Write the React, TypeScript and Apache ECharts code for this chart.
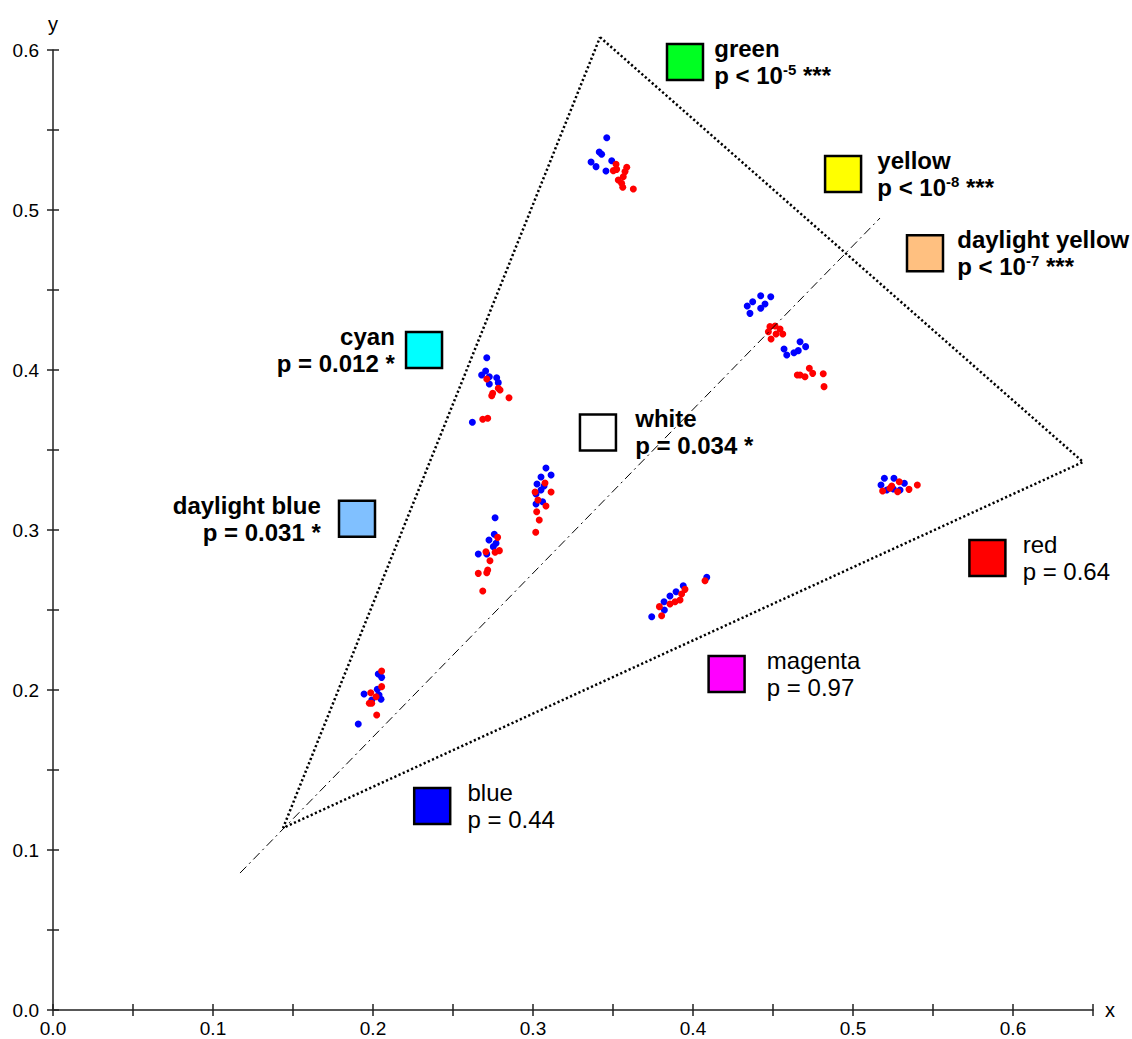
import React, { useEffect, useRef } from "react";
import * as echarts from "echarts";

// ---------- data ----------
const gamutTriangle: [number, number][] = [
  [0.3419, 0.608],
  [0.6438, 0.3425],
  [0.1438, 0.1138],
  [0.3419, 0.608],
];

const dashDotLine: [number, number][] = [
  [0.1169, 0.0856],
  [0.5169, 0.495],
];

const bluePoints: [number, number][] = [
  // green cluster
  [0.3461, 0.5452], [0.3414, 0.5363], [0.3429, 0.5348], [0.3363, 0.53], [0.3394, 0.5271], [0.3492, 0.5308], [0.3456, 0.5244],
  // yellow cluster
  [0.4423, 0.4464], [0.4486, 0.4458], [0.4373, 0.4427], [0.4339, 0.44], [0.445, 0.4413], [0.4423, 0.4386], [0.4356, 0.4354],
  // daylight yellow cluster
  [0.4669, 0.4177], [0.4704, 0.4146], [0.4569, 0.4131], [0.4658, 0.4121], [0.4631, 0.4108], [0.4586, 0.4094],
  // cyan cluster
  [0.2711, 0.4077], [0.2704, 0.3994], [0.2679, 0.3969], [0.2727, 0.3958], [0.2773, 0.3952], [0.2783, 0.3921], [0.2727, 0.3913], [0.2621, 0.3673],
  // white cluster
  [0.3081, 0.3388], [0.3113, 0.3344], [0.305, 0.3331], [0.3025, 0.3288], [0.3069, 0.3275], [0.305, 0.325], [0.3019, 0.3225], [0.306, 0.3177], [0.3019, 0.3163],
  // daylight blue cluster
  [0.2763, 0.3077], [0.2758, 0.2973], [0.2725, 0.2938], [0.2769, 0.2917], [0.2752, 0.2896], [0.2658, 0.285], [0.2711, 0.285],
  // blue cluster
  [0.2033, 0.21], [0.2054, 0.2079], [0.1944, 0.1975], [0.2027, 0.2004], [0.2038, 0.1969], [0.1992, 0.1938], [0.205, 0.1942], [0.1908, 0.1788],
  // magenta cluster
  [0.4086, 0.2704], [0.3939, 0.2652], [0.3894, 0.2614], [0.3856, 0.2588], [0.3819, 0.2552], [0.3821, 0.25], [0.3742, 0.2458],
  // red cluster
  [0.5196, 0.3323], [0.5256, 0.3323], [0.5175, 0.3281], [0.5321, 0.3292], [0.5211, 0.325], [0.5294, 0.325], [0.5252, 0.3256],
];

const redPoints: [number, number][] = [
  // green cluster
  [0.3519, 0.5286], [0.3502, 0.5246], [0.3523, 0.5254], [0.3586, 0.5267], [0.3575, 0.524], [0.3564, 0.5208], [0.3533, 0.5188], [0.3554, 0.5167], [0.3561, 0.5142], [0.3627, 0.5131],
  // yellow cluster
  [0.4481, 0.4271], [0.4513, 0.4275], [0.4544, 0.4256], [0.4471, 0.4239], [0.4561, 0.4225], [0.4488, 0.4194], [0.4519, 0.4225],
  // daylight yellow cluster
  [0.4727, 0.4011], [0.4669, 0.3969], [0.47, 0.3958], [0.4748, 0.3979], [0.4814, 0.3977], [0.4819, 0.3896], [0.4652, 0.3969],
  // cyan cluster
  [0.2711, 0.3944], [0.2783, 0.3886], [0.2794, 0.3875], [0.2748, 0.3854], [0.2742, 0.3839], [0.285, 0.3827], [0.2686, 0.3692], [0.2717, 0.3698],
  // white cluster
  [0.3075, 0.3294], [0.3013, 0.3238], [0.3113, 0.3238], [0.3081, 0.315], [0.3031, 0.3188], [0.3023, 0.3114], [0.3039, 0.3063], [0.3017, 0.2986],
  // daylight blue cluster
  [0.2779, 0.2954], [0.279, 0.2871], [0.2763, 0.2861], [0.2706, 0.2864], [0.2731, 0.2808], [0.2658, 0.2729], [0.2711, 0.2733], [0.2717, 0.275], [0.2686, 0.2619],
  // blue cluster
  [0.2054, 0.2119], [0.2054, 0.2021], [0.1986, 0.1983], [0.2019, 0.1958], [0.1977, 0.1917], [0.1992, 0.1917], [0.2023, 0.1844],
  // magenta cluster
  [0.4075, 0.2683], [0.395, 0.2629], [0.3929, 0.26], [0.3919, 0.2563], [0.3888, 0.2552], [0.3856, 0.2538], [0.379, 0.2521], [0.3804, 0.2464],
  // red cluster
  [0.5289, 0.3302], [0.5242, 0.3275], [0.5231, 0.3261], [0.5185, 0.3244], [0.535, 0.3254], [0.5402, 0.3281], [0.5279, 0.3239],
];

const swatchNames = ["green", "yellow", "daylight yellow", "cyan", "white", "daylight blue", "red", "magenta", "blue"];
const swatchX = [0.395, 0.4938, 0.545, 0.2319, 0.3406, 0.19, 0.584, 0.421, 0.237];
const swatchY = [0.5925, 0.5225, 0.473, 0.4125, 0.361, 0.307, 0.2825, 0.21, 0.1275];
const swatchColors = ["#00ff22", "#ffff00", "#ffc080", "#00ffff", "#ffffff", "#80c0ff", "#ff0000", "#ff00ff", "#0000ff"];
const swatchPText = ["p < 10", "p < 10", "p < 10", "p = 0.012", "p = 0.034", "p = 0.031", "p = 0.64", "p = 0.97", "p = 0.44"];
const swatchPExp = ["-5", "-8", "-7", "", "", "", "", "", ""];
const swatchStars = [" ***", " ***", " ***", " *", " *", " *", "", "", ""];
const swatchSignificant = [true, true, true, true, true, true, false, false, false];
const swatchLabelLeft = [false, false, false, true, false, true, false, false, false];
const swatchLabelGap = [10, 15, 13, 10, 18, 17, 16, 21, 16];

const xTickStep = 0.05;
const yTickStep = 0.05;

// ---------- chart ----------
const FONT = "'Liberation Sans', Arial, Helvetica, sans-serif";
const AXIS_COLOR = "#222";

const tickFormatter = (v: number) =>
  Math.abs(v * 10 - Math.round(v * 10)) < 1e-6 ? v.toFixed(1) : "";

export default function App() {
  const ref = useRef<HTMLDivElement>(null);

  useEffect(() => {
    if (!ref.current) return;
    const chart = echarts.init(ref.current, undefined, { renderer: "svg" });

    const swatchData = swatchNames.map((name, i) => {
      const st = swatchSignificant[i] ? "b" : "n";
      const line2 = swatchPExp[i]
        ? `{${st}|${swatchPText[i]}}{${st}s|${swatchPExp[i]}}{${st}|${swatchStars[i]}}`
        : `{${st}|${swatchPText[i]}${swatchStars[i]}}`;
      return {
        name,
        value: [swatchX[i], swatchY[i]],
        itemStyle: { color: swatchColors[i] },
        label: {
          show: true,
          position: swatchLabelLeft[i] ? "left" : "right",
          align: swatchLabelLeft[i] ? "right" : "left",
          distance: swatchLabelGap[i],
          formatter: `{${st}|${name}}\n${line2}`,
        },
      };
    });

    const richStyles = {
      b: { fontSize: 24, fontWeight: "bold", lineHeight: 27, color: "#000", fontFamily: FONT },
      bs: { fontSize: 15, fontWeight: "bold", lineHeight: 14, verticalAlign: "top", color: "#000", fontFamily: FONT },
      n: { fontSize: 24, fontWeight: "normal", lineHeight: 27, color: "#000", fontFamily: FONT },
      ns: { fontSize: 15, fontWeight: "normal", lineHeight: 14, verticalAlign: "top", color: "#000", fontFamily: FONT },
    };

    const baseX = {
      type: "value",
      min: 0,
      max: 0.65,
      interval: xTickStep,
      position: "bottom",
      splitLine: { show: false },
    };
    const baseY = {
      type: "value",
      min: 0,
      max: 0.6,
      interval: yTickStep,
      position: "left",
      splitLine: { show: false },
    };

    chart.setOption({
      animation: false,
      backgroundColor: "#fff",
      grid: { left: 53, right: 39, top: 50, bottom: 29, containLabel: false, outerBoundsMode: "none" },
      xAxis: [
        {
          ...baseX,
          name: "x",
          nameLocation: "end",
          nameGap: 12,
          nameTextStyle: { fontSize: 20, color: "#000", fontFamily: FONT, verticalAlign: "middle" },
          axisLine: { show: true, onZero: false, lineStyle: { color: AXIS_COLOR, width: 1.5 } },
          axisTick: { show: true, inside: false, length: 6, lineStyle: { color: AXIS_COLOR, width: 1.5 } },
          axisLabel: {
            show: true,
            margin: 9,
            fontSize: 19,
            color: "#000",
            fontFamily: FONT,
            showMinLabel: true,
            showMaxLabel: true,
            hideOverlap: false,
            formatter: tickFormatter,
          },
        },
        {
          ...baseX,
          axisLine: { show: false, onZero: false },
          axisTick: { show: true, inside: true, length: 6, lineStyle: { color: AXIS_COLOR, width: 1.5 } },
          axisLabel: { show: false },
        },
      ],
      yAxis: [
        {
          ...baseY,
          name: "y",
          nameLocation: "end",
          nameGap: 16,
          nameTextStyle: { fontSize: 20, color: "#000", fontFamily: FONT },
          axisLine: { show: true, onZero: false, lineStyle: { color: AXIS_COLOR, width: 1.5 } },
          axisTick: { show: true, inside: false, length: 6, lineStyle: { color: AXIS_COLOR, width: 1.5 } },
          axisLabel: {
            show: true,
            margin: 14,
            fontSize: 19,
            color: "#000",
            fontFamily: FONT,
            showMinLabel: true,
            showMaxLabel: true,
            hideOverlap: false,
            formatter: tickFormatter,
          },
        },
        {
          ...baseY,
          axisLine: { show: false, onZero: false },
          axisTick: { show: true, inside: true, length: 6, lineStyle: { color: AXIS_COLOR, width: 1.5 } },
          axisLabel: { show: false },
        },
      ],
      series: [
        {
          type: "line",
          name: "gamut",
          data: gamutTriangle,
          symbol: "none",
          clip: false,
          silent: true,
          lineStyle: { color: "#000", width: 2.5, type: [2.2, 2.4] },
        },
        {
          type: "line",
          name: "axis",
          data: dashDotLine,
          symbol: "none",
          clip: false,
          silent: true,
          lineStyle: { color: "#000", width: 1, type: [9, 4, 2, 4] },
        },
        {
          type: "scatter",
          name: "blue",
          data: bluePoints,
          symbol: "circle",
          symbolSize: 7,
          clip: false,
          itemStyle: { color: "#0000ff", opacity: 1 },
        },
        {
          type: "scatter",
          name: "red",
          data: redPoints,
          symbol: "circle",
          symbolSize: 7,
          clip: false,
          itemStyle: { color: "#ff0000", opacity: 1 },
        },
        {
          type: "scatter",
          name: "swatches",
          data: swatchData,
          symbol: "rect",
          symbolSize: 36,
          clip: false,
          itemStyle: { borderColor: "#000", borderWidth: 2.5, opacity: 1 },
          label: { show: true, rich: richStyles, color: "#000" },
        },
      ],
    });

    return () => chart.dispose();
  }, []);

  return (
    <div
      ref={ref}
      style={{ position: "absolute", left: 0, top: 0, width: 1132, height: 1039, background: "#fff" }}
    />
  );
}
